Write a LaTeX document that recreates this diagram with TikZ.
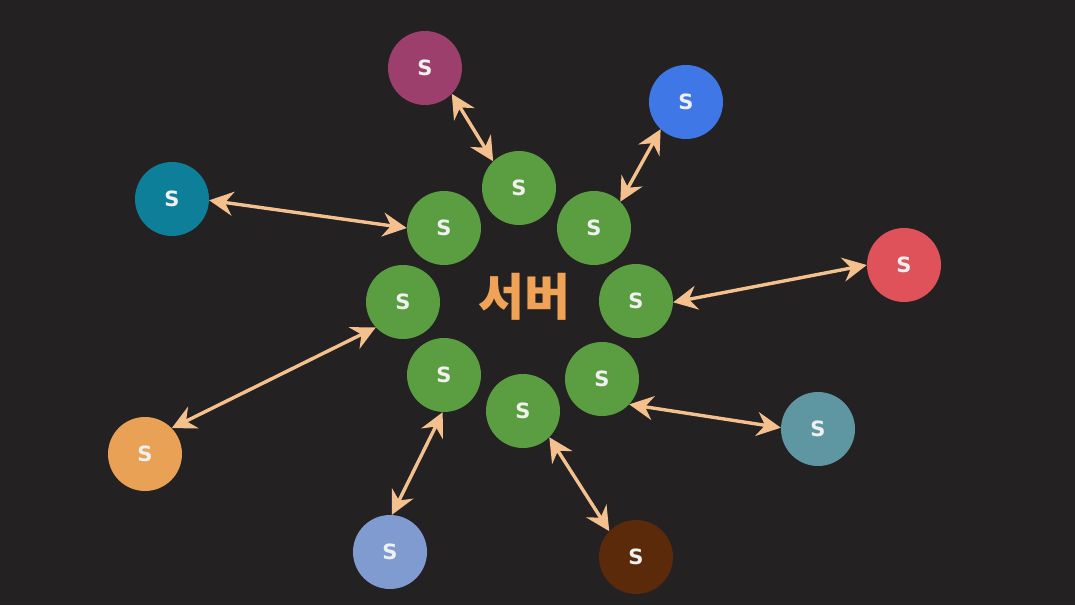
\documentclass[tikz,border=0pt]{standalone}
\usepackage{fontspec}
\newfontfamily\kr{Noto Sans CJK KR}
\newfontfamily\sfont{DejaVu Sans}
\usetikzlibrary{arrows.meta}
\definecolor{bg}{HTML}{232122}
\definecolor{gr}{HTML}{5B9E41}
\definecolor{arr}{HTML}{F4C08E}
\definecolor{cpurple}{HTML}{9C3F6D}
\definecolor{cblue}{HTML}{3F78E6}
\definecolor{cteal}{HTML}{0E7F98}
\definecolor{cred}{HTML}{DF525A}
\definecolor{cgteal}{HTML}{5E96A1}
\definecolor{corange}{HTML}{E9A156}
\definecolor{clblue}{HTML}{7F9BD0}
\definecolor{cbrown}{HTML}{5B2A0B}
\definecolor{ktext}{HTML}{F0A257}
\tikzset{
  srv/.style={circle, fill=#1, minimum size=74pt, inner sep=0pt, text=white!94!black, font=\sfont\bfseries\fontsize{21}{21}\selectfont},
  link/.style={draw=arr, line width=3.4pt, {Stealth[length=24pt,width=24pt,inset=8pt]}-{Stealth[length=24pt,width=24pt,inset=8pt]}}
}
\begin{document}
\begin{tikzpicture}[x=1pt,y=-1pt]
\fill[bg] (0,0) rectangle (1075,605);
\useasboundingbox (0,0) rectangle (1075,605);
% green ring
\node[srv=gr] (g1) at (519,188) {S};
\node[srv=gr] (g2) at (594,228) {S};
\node[srv=gr] (g3) at (636,301) {S};
\node[srv=gr] (g4) at (602,379) {S};
\node[srv=gr] (g5) at (523,411) {S};
\node[srv=gr] (g6) at (444,375) {S};
\node[srv=gr] (g7) at (403,302) {S};
\node[srv=gr] (g8) at (444,228) {S};
\node[text=ktext, font=\kr\bfseries\fontsize{50}{50}\selectfont] (t) at (524,297) {서버};
% outer
\node[srv=cpurple] (p) at (425,68) {S};
\node[srv=cblue] (b) at (686,102) {S};
\node[srv=cteal] (tl) at (172,199) {S};
\node[srv=cred] (r) at (904,265) {S};
\node[srv=cgteal] (gt) at (818,429) {S};
\node[srv=corange] (o) at (145,454) {S};
\node[srv=clblue] (lb) at (390,552) {S};
\node[srv=cbrown] (br) at (636,557) {S};
% links
\draw[link] (p.-44) -- (g1.134);
\draw[link] (b.-133) -- (g2.45);
\draw[link] (tl.-2) -- (g8.180);
\draw[link] (r.180) -- (g3.-2);
\draw[link] (gt.178) -- (g4.-43);
\draw[link] (o.44) -- (g7.-137);
\draw[link] (lb.87) -- (g6.-92);
\draw[link] (br.136) -- (g5.-45);
\end{tikzpicture}
\end{document}
